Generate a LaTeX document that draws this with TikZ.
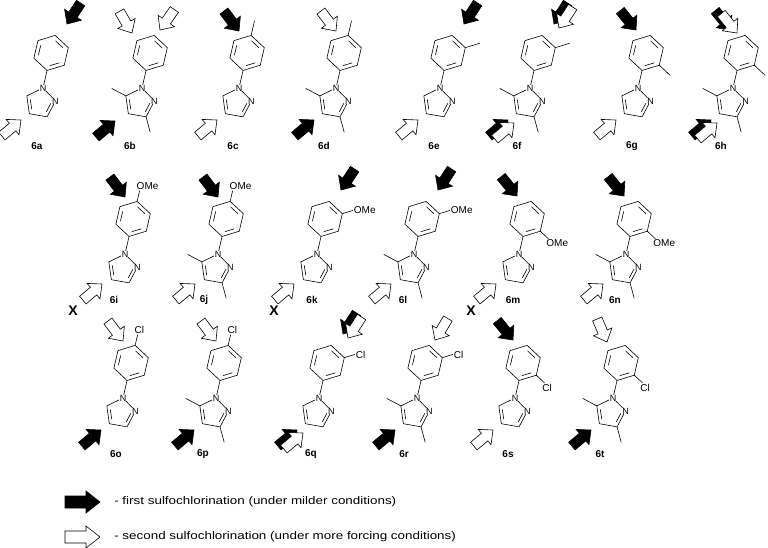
\documentclass[tikz,border=0pt]{standalone}
\usepackage{fontspec}
\setmainfont{Liberation Sans}
\usetikzlibrary{calc}
\tikzset{
  bond/.style={line width=0.6pt},
  atomlbl/.style={fill=white,inner sep=0.3pt,font=\fontsize{9}{9}\selectfont},
  sublbl/.style={inner sep=0.8pt,font=\fontsize{10}{10}\selectfont},
  cmpd/.style={font=\bfseries\fontsize{10}{10}\selectfont},
  xmark/.style={font=\bfseries\fontsize{14}{14}\selectfont},
  legtext/.style={anchor=west,xscale=1.22,font=\fontsize{11}{11}\selectfont}
}
% inner double-bond line for ring with center #1 between #2 and #3
\newcommand\dbl[3]{\draw[bond] ($(#1)!0.76!($(#2)!0.14!(#3)$)$) -- ($(#1)!0.76!($(#2)!0.86!(#3)$)$);}
% molecule: #1 x, #2 y of N1, #3 pyrazole methyls (1/0), #4 position (n,o,m,p), #5 substituent (Me,OMe,Cl)
\newcommand\mol[5]{%
\begin{scope}[shift={(#1,#2)}]
 \coordinate (pc) at (-2.66,15.07);
 \coordinate (n1) at (0,0);
 \coordinate (n2) at ($(pc)+(-8:15.3)$);
 \coordinate (c3) at ($(pc)+(64:15.3)$);
 \coordinate (c4) at ($(pc)+(136:15.3)$);
 \coordinate (c5) at ($(pc)+(-152:15.3)$);
 \coordinate (bc) at (-77:36);
 \coordinate (b1) at ($(bc)+(103:18)$);
 \coordinate (b2) at ($(bc)+(43:18)$);
 \coordinate (b3) at ($(bc)+(-17:18)$);
 \coordinate (b4) at ($(bc)+(-77:18)$);
 \coordinate (b5) at ($(bc)+(-137:18)$);
 \coordinate (b6) at ($(bc)+(163:18)$);
 \draw[bond] (n1)--(n2)--(c3)--(c4)--(c5)--cycle;
 \dbl{pc}{n2}{c3}\dbl{pc}{c4}{c5}
 \draw[bond] (n1)--(b1);
 \draw[bond] (b1)--(b2)--(b3)--(b4)--(b5)--(b6)--cycle;
 \dbl{bc}{b1}{b2}\dbl{bc}{b3}{b4}\dbl{bc}{b5}{b6}
 \ifnum#3=1
  \draw[bond] (c5) -- ++(-152:16);
  \draw[bond] (c3) -- ++(75:16);
 \fi
 \node[atomlbl] at (n1) {N};
 \node[atomlbl] at (n2) {N};
 \def\pos{#4}\def\sub{#5}
 \if p\pos \def\ang{-77}\def\anc{south west}\def\xs{-4pt}\fi
 \if m\pos \def\ang{-17}\def\anc{west}\def\xs{0pt}\fi
 \if o\pos \def\ang{43}\def\anc{north west}\def\xs{-3pt}\fi
 \if n\pos\else
  \ifx\sub\strMe
   \draw[bond] (bc) ++(\ang:18) -- ++(\ang:15);
  \else
   \draw[bond] (bc) ++(\ang:18) -- ++(\ang:11) node[sublbl,anchor=\anc,xshift=\xs] {#5};
  \fi
 \fi
\end{scope}}
\def\strMe{Me}
% arrow: tip x, tip y, direction angle (y up, visual), fill colour
\newcommand\arr[4]{\draw[line width=0.6pt,fill=#4,shift={(#1,#2)},rotate=#3]
 (0,0) -- (-11,-10) -- (-11,-5) -- (-25,-5) -- (-25,5) -- (-11,5) -- (-11,10) -- cycle;}
\begin{document}
\begin{tikzpicture}[x=1pt,y=-1pt]
\useasboundingbox (0,0) rectangle (768,547);
% ---- row 1 ----
\mol{43}{88}{0}{n}{}   \node[cmpd] at (37,146) {6a};
\mol{142}{88}{1}{n}{}  \node[cmpd] at (130,146) {6b};
\mol{239}{88}{0}{p}{Me} \node[cmpd] at (233,146) {6c};
\mol{336}{88}{1}{p}{Me} \node[cmpd] at (324,146) {6d};
\mol{440}{88}{0}{m}{Me} \node[cmpd] at (434,146) {6e};
\mol{530}{88}{1}{m}{Me} \node[cmpd] at (517,146) {6f};
\mol{638}{88}{0}{o}{Me} \node[cmpd] at (632,146) {6g};
\mol{733}{88}{1}{o}{Me} \node[cmpd] at (721,146) {6h};
\arr{67}{24}{237}{black}      \arr{21}{120}{40}{white}
\arr{132}{33}{-60}{white} \arr{160}{30}{-125}{white} \arr{115}{121}{40}{black}
\arr{239}{31}{-53}{black}     \arr{217}{120}{40}{white}
\arr{336}{31}{-53}{white}     \arr{314}{120}{40}{black}
\arr{464}{24}{237}{black}     \arr{418}{120}{40}{white}
\arr{554}{24}{237}{black} \arr{559}{28}{237}{white}
\arr{508}{120}{40}{black} \arr{514}{123}{40}{white}
\arr{636}{30}{-51}{black}     \arr{616}{120}{40}{white}
\arr{731}{30}{-51}{black} \arr{737}{33}{-51}{white}
\arr{711}{120}{40}{black} \arr{717}{123}{40}{white}
% ---- row 2 ----
\mol{125}{254}{0}{p}{OMe} \node[cmpd] at (114,300) {6i};
\mol{218}{254}{1}{p}{OMe} \node[cmpd] at (204,300) {6j};
\mol{317}{254}{0}{m}{OMe} \node[cmpd] at (312,300) {6k};
\mol{414}{254}{1}{m}{OMe} \node[cmpd] at (403,300) {6l};
\mol{519}{254}{0}{o}{OMe} \node[cmpd] at (513,300) {6m};
\mol{626}{254}{1}{o}{OMe} \node[cmpd] at (615,300) {6n};
\arr{125}{197}{-53}{black} \arr{102}{284}{40}{white}
\arr{218}{197}{-53}{black} \arr{195}{284}{40}{white}
\arr{341}{190}{237}{black} \arr{294}{284}{40}{white}
\arr{438}{190}{237}{black} \arr{391}{284}{40}{white}
\arr{517}{196}{-51}{black} \arr{496}{284}{40}{white}
\arr{624}{196}{-51}{black} \arr{603}{284}{40}{white}
\node[xmark] at (73,311) {X};
\node[xmark] at (274,311) {X};
\node[xmark] at (471,311) {X};
% ---- row 3 ----
\mol{123}{398}{0}{p}{Cl} \node[cmpd] at (116,454) {6o};
\mol{216}{398}{1}{p}{Cl} \node[cmpd] at (203,454) {6p};
\mol{319}{398}{0}{m}{Cl} \node[cmpd] at (311,454) {6q};
\mol{417}{398}{1}{m}{Cl} \node[cmpd] at (404,454) {6r};
\mol{515}{398}{0}{o}{Cl} \node[cmpd] at (508,454) {6s};
\mol{613}{398}{1}{o}{Cl} \node[cmpd] at (600,454) {6t};
\arr{123}{341}{-53}{white} \arr{101}{430}{40}{black}
\arr{216}{341}{-53}{white} \arr{194}{430}{40}{black}
\arr{343}{334}{237}{black} \arr{348}{338}{237}{white}
\arr{297}{430}{40}{black} \arr{303}{433}{40}{white}
\arr{435}{340}{239}{white} \arr{395}{430}{40}{black}
\arr{513}{340}{-51}{black} \arr{493}{430}{40}{white}
\arr{607}{342}{-67}{white} \arr{591}{430}{40}{black}
% ---- legend ----
\draw[line width=0.6pt,fill=black] (100,502) -- (86,491) -- (86,496) -- (65,496) -- (65,508) -- (86,508) -- (86,513) -- cycle;
\node[legtext] at (110,502) {- first sulfochlorination (under milder conditions)};
\draw[line width=0.6pt,fill=white] (100,537) -- (86,526) -- (86,531) -- (65,531) -- (65,543) -- (86,543) -- (86,548) -- cycle;
\node[legtext] at (110,537) {- second sulfochlorination (under more forcing conditions)};
\end{tikzpicture}
\end{document}
